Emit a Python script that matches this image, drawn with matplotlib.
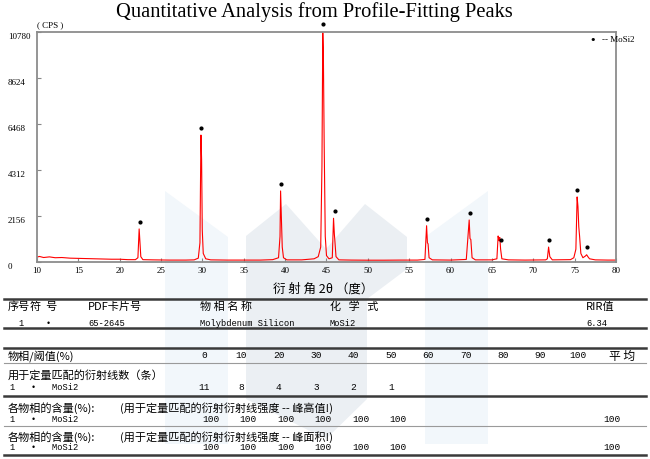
import matplotlib.pyplot as plt
from matplotlib.patches import Polygon
from matplotlib.lines import Line2D
from matplotlib.transforms import blended_transform_factory

# diffraction trace (2theta in degrees, intensity in CPS)
two_theta = [10.0, 10.3, 10.8, 11.5, 12.2, 13.0, 14.0, 15.0, 16.0, 17.0, 18.0, 19.0, 20.0, 21.0, 21.9,
             22.2, 22.35, 22.45, 22.55, 22.8, 24.0, 25.0, 26.0, 27.0, 28.0, 29.0, 29.5, 29.7, 29.82,
             29.9, 29.98, 30.1, 30.4, 31.0, 33.0, 35.0, 37.0, 38.5, 39.2, 39.38, 39.45, 39.55, 39.65,
             39.8, 40.2, 42.0, 43.5, 44.0, 44.3, 44.45, 44.55, 44.62, 44.72, 44.85, 45.0, 45.3, 45.7,
             45.85, 45.95, 46.02, 46.15, 46.5, 48.0, 50.0, 52.0, 54.0, 56.0, 56.9, 57.1, 57.2, 57.28,
             57.4, 57.8, 60.0, 61.9, 62.25, 62.35, 62.45, 62.6, 63.0, 65.0, 65.6, 65.75, 65.85, 65.95,
             66.05, 66.2, 67.0, 69.0, 71.5, 71.7, 71.85, 72.0, 72.3, 74.5, 74.9, 75.15, 75.3, 75.4,
             75.5, 75.6, 75.75, 76.0, 76.3, 76.45, 76.6, 76.8, 77.5, 79.0, 80.0]
cps = [230, 260, 210, 240, 200, 210, 180, 170, 160, 150, 140, 130, 130, 110, 110,
       200, 1550, 900, 250, 110, 100, 95, 90, 90, 90, 100, 180, 900, 5950,
       4800, 1500, 400, 150, 100, 90, 90, 90, 110, 200, 1200, 3330, 2000, 700,
       200, 100, 100, 150, 250, 700, 4500, 10750, 9800, 5500, 1200, 300, 150, 200,
       2050, 1300, 950, 250, 100, 90, 85, 85, 90, 90, 120, 1700, 900, 850,
       200, 100, 90, 120, 1970, 1100, 1050, 200, 100, 100, 150, 1220, 1000, 1150,
       600, 150, 100, 90, 100, 150, 700, 250, 100, 110, 200, 600, 3050, 2600,
       1650, 1200, 400, 200, 280, 340, 250, 150, 100, 90, 90]

# MoSi2 markers above the peaks
mark_2theta = [22.4, 29.8, 39.5, 44.55, 46.0, 57.15, 62.3, 66.1, 71.9, 75.3, 76.5]
mark_cps = [1880, 6290, 3660, 11160, 2390, 2020, 2300, 1030, 1030, 3380, 700]

y_ticks = [0, 2156, 4312, 6468, 8624, 10780]
x_ticks = [10, 15, 20, 25, 30, 35, 40, 45, 50, 55, 60, 65, 70, 75, 80]

# table contents
header = ['序号', '符  号', 'PDF卡片号', '物 相 名 称', '化   学   式', 'RIR值']
phase_row = ['1', '•', '65-2645', 'Molybdenum Silicon', 'MoSi2', '6.34']
thresholds = ['0', '10', '20', '30', '40', '50', '60', '70', '80', '90', '100']
line_counts = ['11', '8', '4', '3', '2', '1']
height_content = ['100', '100', '100', '100', '100', '100']
height_avg = '100'
area_content = ['100', '100', '100', '100', '100', '100']
area_avg = '100'

CJK = ['Noto Sans CJK SC', 'DejaVu Sans']
MONO = 'Liberation Mono'
SERIF = 'Liberation Serif'

W, H = 650, 460


def fx(x):
    return x / W


def fy(y):
    return 1 - y / H


fig = plt.figure(figsize=(6.5, 4.6), dpi=100)

# faint logo watermark behind everything
light = '#f2f7fb'
grey = '#ebeff3'
shapes = [
    ([(165, 192), (228, 238), (228, 445), (165, 445)], light),
    ([(425, 238), (488, 192), (488, 445), (425, 445)], light),
    ([(246, 237), (286, 205), (326, 250), (365, 205), (407, 238), (407, 270),
      (367, 300), (367, 400), (326, 440), (246, 400)], grey),
]
for pts, col in shapes:
    fig.patches.append(Polygon([(fx(x), fy(y)) for x, y in pts], closed=True,
                               transform=fig.transFigure, facecolor=col,
                               edgecolor='none', zorder=-5))

ax = fig.add_axes([fx(37), fy(263), fx(616) - fx(37), fy(33) - fy(263)])
ax.patch.set_alpha(0)
ax.plot(two_theta, cps, color='red', lw=0.8)
ax.scatter(mark_2theta, mark_cps, s=4, color='black', zorder=5, clip_on=False)

ax.set_xlim(10, 80)
ax.set_ylim(0, 10780)
ax.set_xticks(x_ticks)
ax.set_xticklabels([str(v) for v in x_ticks], fontsize=6.5, family=SERIF)
ax.set_yticks(y_ticks)
ax.set_yticklabels([])
ax.tick_params(direction='in', length=3, color='#888888', pad=3)
for s in ax.spines.values():
    s.set_color('#8c8c8c')
    s.set_linewidth(1.3)

trans = blended_transform_factory(ax.transAxes, ax.transData)
for v in y_ticks:
    ax.text((8 - 37) / 579, v, str(v), transform=trans, ha='left', va='top',
            fontsize=6.5, family=SERIF)

ax.text(0.96, 0.97, '•', transform=ax.transAxes, ha='center', va='center', fontsize=8)
ax.text(0.975, 0.97, '-- MoSi2', transform=ax.transAxes, ha='left', va='center',
        fontsize=6.5, family=SERIF)

fig.text(fx(37), fy(25), '( CPS )', fontsize=6.5, family=SERIF, va='center')
fig.text(fx(314), fy(12), 'Quantitative Analysis from Profile-Fitting Peaks',
         ha='center', va='center', fontsize=14.8, family=SERIF)
fig.text(fx(323), fy(289), '衍 射 角 2θ （度）', ha='center', va='center',
         fontsize=9, family=CJK)


def hline(y, lw=1.8, color='#3a3a3a'):
    fig.add_artist(Line2D([fx(4), fx(646)], [fy(y), fy(y)], lw=lw, color=color,
                          transform=fig.transFigure))


def txt(x, y, s, fam=CJK, size=8, ha='left'):
    fig.text(fx(x), fy(y), s, ha=ha, va='center', fontsize=size, family=fam)


hline(300)
hdr_x = [8, 30, 88, 200, 330, 586]
for x, s in zip(hdr_x, header):
    txt(x, 307, s)
row_x = [18, 46, 88, 200, 330, 586]
for x, s in zip(row_x, phase_row):
    txt(x, 323, s, fam=MONO, size=6.3)
hline(329)

hline(349)
txt(8, 356, '物相/阈值(%)')
col_x = [204 + 37.4 * i for i in range(len(thresholds))]
for x, s in zip(col_x, thresholds):
    txt(x, 356, s, fam=MONO, size=6.8, ha='center')
txt(622, 356, '平 均', size=8.5, ha='center')
hline(364, lw=0.8, color='#9a9a9a')

txt(8, 375, '用于定量匹配的衍射线数（条）')
txt(10, 387, '1   •   MoSi2', fam=MONO, size=6.3)
for x, s in zip(col_x, line_counts):
    txt(x, 387, s, fam=MONO, size=6.8, ha='center')
hline(397)

txt(8, 408, '各物相的含量(%):')
txt(120, 408, '(用于定量匹配的衍射衍射线强度 -- 峰高值!)')
txt(10, 420, '1   •   MoSi2', fam=MONO, size=6.3)
for x, s in zip(col_x, height_content):
    txt(x + 7, 420, s, fam=MONO, size=6.8, ha='center')
txt(612, 420, height_avg, fam=MONO, size=6.8, ha='center')
hline(427, lw=0.8, color='#9a9a9a')

txt(8, 437, '各物相的含量(%):')
txt(120, 437, '(用于定量匹配的衍射衍射线强度 -- 峰面积!)')
txt(10, 448, '1   •   MoSi2', fam=MONO, size=6.3)
for x, s in zip(col_x, area_content):
    txt(x + 7, 448, s, fam=MONO, size=6.8, ha='center')
txt(612, 448, area_avg, fam=MONO, size=6.8, ha='center')
hline(456)

fig.savefig('out.png', dpi=100)
